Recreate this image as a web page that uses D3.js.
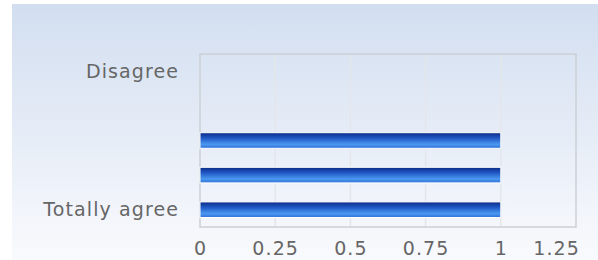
<!DOCTYPE html>
<html>
<head>
<meta charset="utf-8">
<script src="https://cdn.jsdelivr.net/npm/d3@7"></script>
<style>
  body { margin: 0; background: #fff; }
  text { font-family: "DejaVu Sans", Verdana, sans-serif; fill: #666; }
</style>
</head>
<body>
<div id="chart"></div>
<script>
const width = 598, height = 260;
const margin = {top: 54, right: 22, bottom: 33, left: 200};

// data
const categories = ["Disagree", "Somewhat disagree", "Neutral", "Agree", "Totally agree"];
const categoryLabels = ["Disagree", "", "", "", "Totally agree"];
const values = [0, 0, 1, 1, 1];
const xTicks = [0, 0.25, 0.5, 0.75, 1, 1.25];
const xTickLabels = ["0", "0.25", "0.5", "0.75", "1", "1.25"];

let svg = d3.select("#chart")
    .append("svg")
    .attr("width", width)
    .attr("height", height);

let defs = svg.append("defs");

let bg = defs.append("linearGradient")
    .attr("id", "bg")
    .attr("x1", 0).attr("y1", 0).attr("x2", 0).attr("y2", 1);
bg.append("stop").attr("offset", "0%").attr("stop-color", "#d2def0");
bg.append("stop").attr("offset", "100%").attr("stop-color", "#f9fafd");

let barGrad = defs.append("linearGradient")
    .attr("id", "bar")
    .attr("x1", 0).attr("y1", 0).attr("x2", 0).attr("y2", 1);
barGrad.append("stop").attr("offset", "0%").attr("stop-color", "#0b2a86");
barGrad.append("stop").attr("offset", "35%").attr("stop-color", "#2057c4");
barGrad.append("stop").attr("offset", "75%").attr("stop-color", "#4a98f0");
barGrad.append("stop").attr("offset", "100%").attr("stop-color", "#2f6fd8");

svg.append("rect")
    .attr("x", 12)
    .attr("y", 4)
    .attr("width", width - 12)
    .attr("height", height - 4)
    .attr("fill", "url(#bg)");

const plotW = width - margin.left - margin.right;
const plotH = height - margin.top - margin.bottom;

let x = d3.scaleLinear()
    .domain([0, 1.25])
    .range([margin.left, margin.left + plotW]);

let y = d3.scaleBand()
    .domain(categories)
    .range([margin.top, margin.top + plotH])
    .paddingInner(0.55)
    .paddingOuter(0.275);

// gridlines
svg.append("g")
    .selectAll("line")
    .data(xTicks.slice(1, -1))
    .enter()
    .append("line")
    .attr("x1", d => x(d)).attr("x2", d => x(d))
    .attr("y1", margin.top).attr("y2", margin.top + plotH)
    .attr("stroke", "#e4e6ea")
    .attr("stroke-width", 1.5);

// plot border
svg.append("rect")
    .attr("x", margin.left)
    .attr("y", margin.top)
    .attr("width", plotW)
    .attr("height", plotH)
    .attr("fill", "none")
    .attr("stroke", "#cdd0d5")
    .attr("stroke-width", 1.5);

// bars
svg.append("g")
    .selectAll("rect")
    .data(categories.map((c, i) => ({c: c, v: values[i]})).filter(d => d.v > 0))
    .enter()
    .append("rect")
    .attr("x", x(0))
    .attr("y", d => y(d.c))
    .attr("width", d => x(d.v) - x(0))
    .attr("height", y.bandwidth())
    .attr("fill", "url(#bar)")
    .attr("stroke", "#fff")
    .attr("stroke-width", 1);

// y labels
svg.append("g")
    .selectAll("text")
    .data(categories)
    .enter()
    .append("text")
    .attr("x", 179)
    .attr("y", d => y(d) + y.bandwidth() / 2)
    .attr("dy", "0.35em")
    .style("text-anchor", "end")
    .style("font-size", "19px")
    .style("letter-spacing", "1.1px")
    .text((d, i) => categoryLabels[i]);

// x labels (last one kept inside the chart, right-aligned)
const lastTick = xTicks.length - 1;
svg.append("g")
    .selectAll("text")
    .data(xTicks)
    .enter()
    .append("text")
    .attr("x", (d, i) => i === lastTick ? x(d) + 4 : x(d) + 0.5)
    .attr("y", 255)
    .style("text-anchor", (d, i) => i === lastTick ? "end" : "middle")
    .style("font-size", "19px")
    .style("letter-spacing", "1.1px")
    .text((d, i) => xTickLabels[i]);
</script>
</body>
</html>
